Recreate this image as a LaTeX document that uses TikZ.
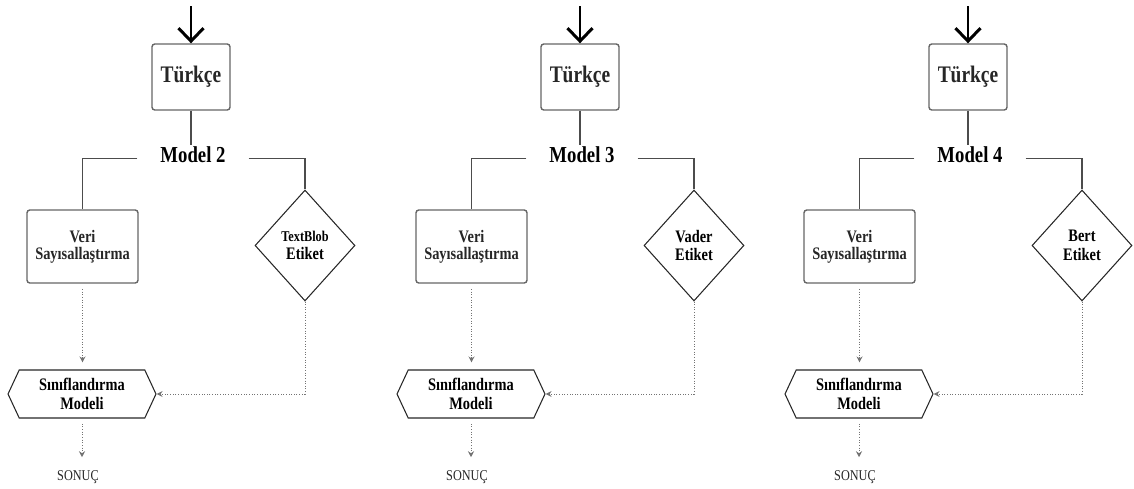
\documentclass[tikz,border=0pt]{standalone}
\usepackage{fontspec}
\setmainfont{Liberation Serif}[FakeStretch=0.82]
\usetikzlibrary{shapes.geometric, shapes.symbols, arrows.meta, positioning}

\begin{document}
\begin{tikzpicture}[x=0.02cm, y=-0.02cm,
		box/.style={draw=black!60, line width=0.8pt, rounded corners=1.6pt, align=center, text=black!85},
		lang/.style={box, minimum width=1.56cm, minimum height=1.32cm, font=\bfseries\fontsize{13.5}{15}\selectfont},
		prep/.style={box, minimum width=2.22cm, minimum height=1.46cm, font=\bfseries\fontsize{10}{9.5}\selectfont},
		tag/.style={diamond, draw=black!85, line width=0.6pt, minimum width=2cm, minimum height=2.22cm, inner sep=0pt, align=center, font=\bfseries\fontsize{10}{10.5}\selectfont},
		clf/.style={signal, signal to=west and east, signal pointer angle=130, draw=black!85, line width=0.6pt, minimum width=2.96cm, minimum height=0.96cm, inner sep=0pt, align=center, font=\bfseries\fontsize{10}{11}\selectfont},
		mname/.style={font=\bfseries\fontsize{13}{15}\selectfont, inner xsep=13pt, inner ysep=1pt},
		result/.style={font=\fontsize{8.5}{10}\selectfont, text=black!85},
		link/.style={draw=black!70, line width=0.8pt},
		flow/.style={draw=black!55, line width=0.5pt, densely dotted, shorten <=3pt, shorten >=4pt, -{Stealth[length=1.2mm,width=1.2mm]}},
		>={Straight Barb[length=2.6mm,width=5mm]}
		]
		\useasboundingbox (0,0) rectangle (1134,488);
		
		\foreach \dx/\m/\lab/\fs in {0/2/TextBlob/8.5, 389/3/Vader/10, 777/4/Bert/10} {
			\coordinate (in\m) at (\dx+191, 6);
			\node[lang] (tr\m) at (\dx+191, 77) {Türkçe};
			\node[mname] (md\m) at (\dx+193, 155) {Model \m};
			\node[prep] (vs\m) at (\dx+82.5, 246.5) {Veri\\Sayısallaştırma};
			\node[tag] (et\m) at (\dx+305, 245.5) {{\fontsize{\fs}{10.5}\selectfont\lab}\\Etiket};
			\node[clf] (sm\m) at (\dx+82, 394) {Sınıflandırma\\Modeli};
			\node[result] (so\m) at (\dx+78, 477) {SONUÇ};
			
			\draw[->, line width=1.7pt] (in\m) -- (tr\m.north);
			\draw[link] (tr\m.south) -- (tr\m.south |- md\m.north);
			\draw[link] (md\m.mid west) -| (vs\m.north);
			\draw[link] (md\m.mid east) -| (et\m.north);
			\draw[flow] (vs\m.south) -- (vs\m.south |- sm\m.north);
			\draw[flow, shorten <=0pt, shorten >=0pt] (et\m.south) |- (sm\m.east);
			\draw[flow] (sm\m.south) -- (sm\m.south |- so\m.north);
		}
	\end{tikzpicture}
\end{document}
